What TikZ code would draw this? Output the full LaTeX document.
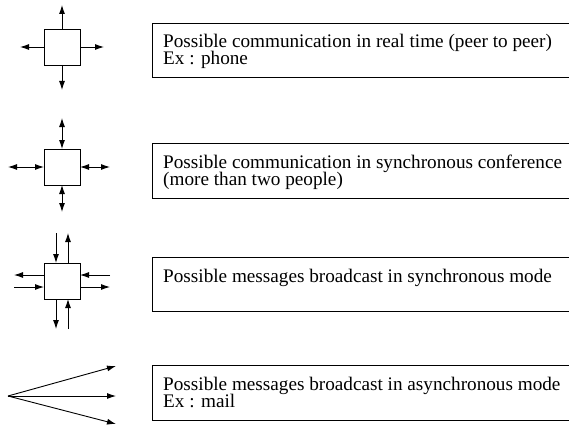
\documentclass[tikz,border=0pt]{standalone}
\usepackage{fontspec}
\setmainfont{Liberation Serif}
\usetikzlibrary{arrows.meta}
\tikzset{
  sq/.style={draw, line width=0.9pt, minimum size=36pt, inner sep=0pt, outer sep=0pt},
  ar/.style={line width=0.9pt, -{Latex[length=9pt,width=6pt]}},
  dar/.style={line width=0.9pt, {Latex[length=9pt,width=6pt]}-{Latex[length=9pt,width=6pt]}},
  box/.style={draw, line width=0.9pt, anchor=north west, minimum width=430pt, inner sep=0pt},
  txt/.style={anchor=base west, inner sep=0pt, font=\fontsize{19.2}{17}\selectfont}
}
\begin{document}
\begin{tikzpicture}[x=1pt,y=-1pt]
\useasboundingbox (0,0) rectangle (569,425);
% Icon 1
\node[sq] (s1) at (62,47) {};
\coordinate (s1u) at (62,5);
\coordinate (s1d) at (62,90);
\coordinate (s1l) at (20,47);
\coordinate (s1r) at (104,47);
\draw[ar] (s1.north) -- (s1u);
\draw[ar] (s1.south) -- (s1d);
\draw[ar] (s1.west) -- (s1l);
\draw[ar] (s1.east) -- (s1r);
% Icon 2
\node[sq] (s2) at (62,167) {};
\coordinate (s2u) at (62,118);
\coordinate (s2d) at (62,212);
\coordinate (s2l) at (8,167);
\coordinate (s2r) at (110,167);
\draw[dar] (s2.north) -- (s2u);
\draw[dar] (s2.south) -- (s2d);
\draw[dar] (s2.west) -- (s2l);
\draw[dar] (s2.east) -- (s2r);
% Icon 3
\node[sq] (s3) at (62,281) {};
\coordinate (a1) at (56,233);
\coordinate (a2) at (68,233);
\coordinate (a3) at (56,329);
\coordinate (a4) at (68,329);
\coordinate (a5) at (14,275);
\coordinate (a6) at (14,287);
\coordinate (a7) at (110,275);
\coordinate (a8) at (110,287);
\draw[ar] (a1) -- (a1 |- s3.north);
\draw[ar] (a2 |- s3.north) -- (a2);
\draw[ar] (a3 |- s3.south) -- (a3);
\draw[ar] (a4) -- (a4 |- s3.south);
\draw[ar] (a5 -| s3.west) -- (a5);
\draw[ar] (a6) -- (a6 -| s3.west);
\draw[ar] (a7) -- (a7 -| s3.east);
\draw[ar] (a8 -| s3.east) -- (a8);
% Icon 4
\coordinate (o) at (8,396);
\coordinate (b1) at (116,366);
\coordinate (b2) at (116,396);
\coordinate (b3) at (116,424);
\draw[ar] (o) -- (b1);
\draw[ar] (o) -- (b2);
\draw[ar] (o) -- (b3);
% Boxes
\node[box, minimum height=54pt] (box1) at (152,23) {};
\node[box, minimum height=55pt] (box2) at (152,143) {};
\node[box, minimum height=54pt] (box3) at (152,257) {};
\node[box, minimum height=55pt] (box4) at (152,365) {};
\node[txt] (t1a) at (163,48) {Possible communication in real time (peer to peer)};
\node[txt] (t1b) at (163,65) {Ex : phone};
\node[txt] (t2a) at (163,168) {Possible communication in synchronous conference};
\node[txt] (t2b) at (163,185) {(more than two people)};
\node[txt] (t3a) at (163,282) {Possible messages broadcast in synchronous mode};
\node[txt] (t4a) at (163,390) {Possible messages broadcast in asynchronous mode};
\node[txt] (t4b) at (163,407) {Ex : mail};
\end{tikzpicture}
\end{document}
